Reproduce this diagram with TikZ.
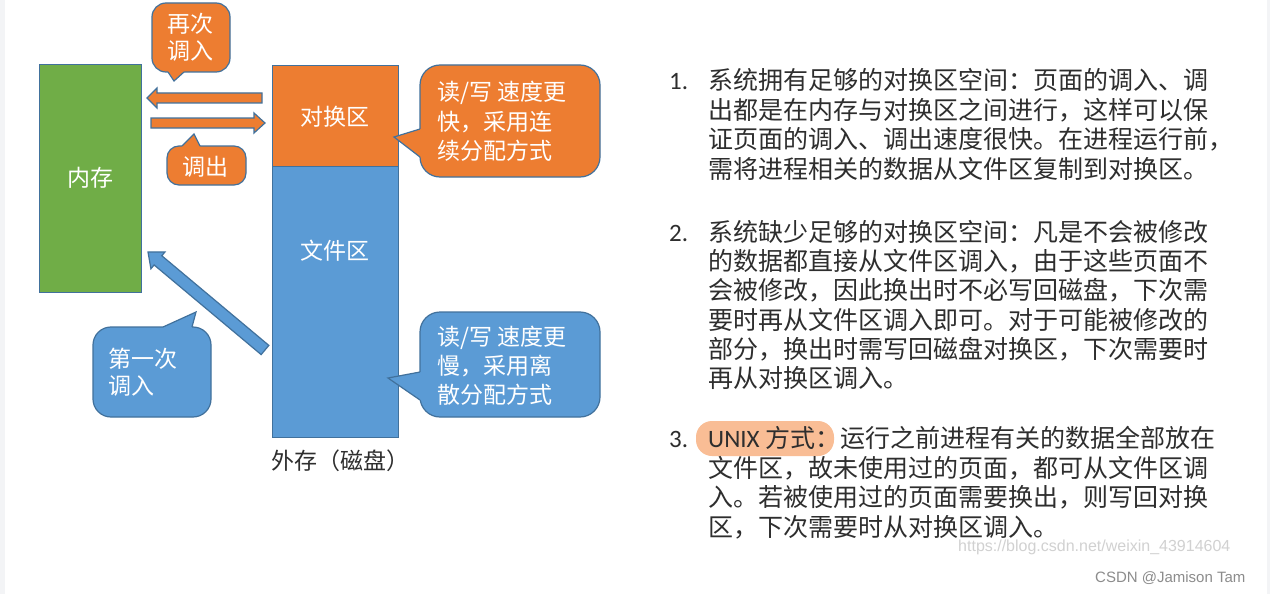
\documentclass[tikz,border=0pt]{standalone}
\usepackage{fontspec}
\setmainfont{Carlito}
\newfontfamily\cjk{Noto Sans CJK SC}
\newfontfamily\wmfont{Liberation Sans}
\definecolor{oranc}{HTML}{ED7D31}
\definecolor{bluec}{HTML}{5B9BD5}
\definecolor{greenc}{HTML}{70AD47}
\definecolor{bordc}{HTML}{41719C}
\definecolor{bodyc}{HTML}{2E2E2E}
\definecolor{stripc}{HTML}{F3F4F6}
\definecolor{hilite}{HTML}{F9BD95}
\begin{document}
\begin{tikzpicture}[x=1pt,y=-1pt,
  outl/.style={draw=bordc, line width=1.2pt, line join=miter},
  box/.style={outl, anchor=north west, inner sep=0pt},
  intext/.style={text=white, font=\cjk\fontsize{23}{28}\selectfont, inner sep=0pt, text height=20.2pt, text depth=2.8pt},
  body/.style={text=bodyc, font=\cjk\fontsize{25}{29.5}\selectfont, anchor=west, inner sep=0pt, text height=22pt, text depth=3pt},
  num/.style={text=bodyc, font=\fontsize{25}{29.5}\selectfont, anchor=west, inner sep=0pt, text height=22pt, text depth=3pt}]
\useasboundingbox (0,0) rectangle (1270,594);
\fill[white] (0,0) rectangle (1270,594);
\fill[stripc] (0,0) rectangle (5,594);
\fill[stripc] (1267,0) rectangle (1270,594);

% boxes
\node[box, fill=greenc, minimum width=102pt, minimum height=228pt] (mem) at (39,64) {};
\node[intext] (memt) at (90,178) {内存};
\node[box, fill=bluec, minimum width=126pt, minimum height=271pt] (file) at (272,166) {};
\node[box, fill=oranc, minimum width=126pt, minimum height=101pt] (swap) at (272,65) {};
\node[intext] (swapt) at (335,117) {对换区};
\node[intext] (filet) at (335,251) {文件区};
\node[intext, text=bodyc, anchor=west] (disk) at (271,461) {外存（磁盘）};

% block arrows
\draw[outl, fill=oranc] (262,93) -- (157,93) -- (157,88) -- (147,98) -- (157,108) -- (157,103) -- (262,103) -- cycle;
\draw[outl, fill=oranc] (151,118) -- (254,118) -- (254,113) -- (265,123) -- (254,133) -- (254,128) -- (151,128) -- cycle;
\draw[outl, fill=bluec] (268.85,345.40) -- (161.82,255.75) -- (165.03,251.92) -- (148,252) -- (150.91,268.78) -- (154.12,264.95) -- (261.15,354.60) -- cycle;

% callout 1
\draw[outl, fill=oranc, rounded corners=14pt] (152,3) rectangle (230,72);
\fill[oranc] (168,66) -- (168,72) -- (174,81) -- (184,72) -- (184,66) -- cycle;
\draw[outl] (168,72) -- (174,81) -- (184,72);
\node[intext] (ca1) at (190,24) {再次};
\node[intext] (ca2) at (190,51) {调入};

% callout 2
\draw[outl, fill=oranc, rounded corners=12pt] (167,146) rectangle (246,185);
\fill[oranc] (182,152) -- (182,146) -- (194,134) -- (200,146) -- (200,152) -- cycle;
\draw[outl] (182,146) -- (194,134) -- (200,146);
\node[intext] (cb) at (205,167) {调出};

% callout 3
\draw[outl, fill=bluec, rounded corners=18pt] (93,327) rectangle (211,417);
\fill[bluec] (163,333) -- (163,327) -- (196,312) -- (192,327) -- (192,333) -- cycle;
\draw[outl] (163,327) -- (196,312) -- (192,327);
\node[intext, anchor=west] (cc1) at (108,359) {第一次};
\node[intext, anchor=west] (cc2) at (108,386) {调入};

% callout 4
\draw[outl, fill=oranc, rounded corners=20pt] (420,65) rectangle (600,177);
\fill[oranc] (426,129) -- (420,129) -- (394,137) -- (420,157) -- (426,157) -- cycle;
\draw[outl] (420,129) -- (394,137) -- (420,157);
\node[intext, anchor=west] (cd1) at (437,92) {读/写 速度更};
\node[intext, anchor=west] (cd2) at (437,122) {快，采用连};
\node[intext, anchor=west] (cd3) at (437,151) {续分配方式};

% callout 5
\draw[outl, fill=bluec, rounded corners=20pt] (420,312) rectangle (600,417);
\fill[bluec] (426,372) -- (420,372) -- (388,378) -- (420,400) -- (426,400) -- cycle;
\draw[outl] (420,372) -- (388,378) -- (420,400);
\node[intext, anchor=west] (ce1) at (437,337) {读/写 速度更};
\node[intext, anchor=west] (ce2) at (437,366) {慢，采用离};
\node[intext, anchor=west] (ce3) at (437,395) {散分配方式};

% right text
\node[num] (n1) at (669,80) {1.};
\foreach \t [count=\i] in {系统拥有足够的对换区空间：页面的调入、调, 出都是在内存与对换区之间进行，这样可以保, 证页面的调入、调出速度很快。在进程运行前，, 需将进程相关的数据从文件区复制到对换区。}
  \node[body] (a\i) at (708,{80+29.5*(\i-1)}) {\t};

\node[num] (n2) at (669,232) {2.};
\foreach \t [count=\i] in {系统缺少足够的对换区空间：凡是不会被修改, 的数据都直接从文件区调入，由于这些页面不, 会被修改，因此换出时不必写回磁盘，下次需, 要时再从文件区调入即可。对于可能被修改的, 部分，换出时需写回磁盘对换区，下次需要时, 再从对换区调入。}
  \node[body] (b\i) at (708,{232+29.2*(\i-1)}) {\t};

\fill[hilite, rounded corners=16pt] (696,421) rectangle (834,456);
\node[num] (n3) at (669,438) {3.};
\node[body] (c1) at (708,438) {{\rmfamily UNIX} 方式：运行之前进程有关的数据全部放在};
\foreach \t [count=\i from 2] in {文件区，故未使用过的页面，都可从文件区调, 入。若被使用过的页面需要换出，则写回对换, 区，下次需要时从对换区调入。}
  \node[body] (c\i) at (708,{438+29.7*(\i-1)}) {\t};

% watermarks
\node[anchor=west, inner sep=0pt, text=black!18, font=\wmfont\fontsize{16}{18}\selectfont] (wm) at (958,547) {https://blog.csdn.net/weixin\_43914604};
\node[anchor=west, inner sep=0pt, text=black!45, font=\wmfont\fontsize{15}{18}\selectfont] (csdn) at (1095,578) {CSDN @Jamison Tam};
\end{tikzpicture}
\end{document}
